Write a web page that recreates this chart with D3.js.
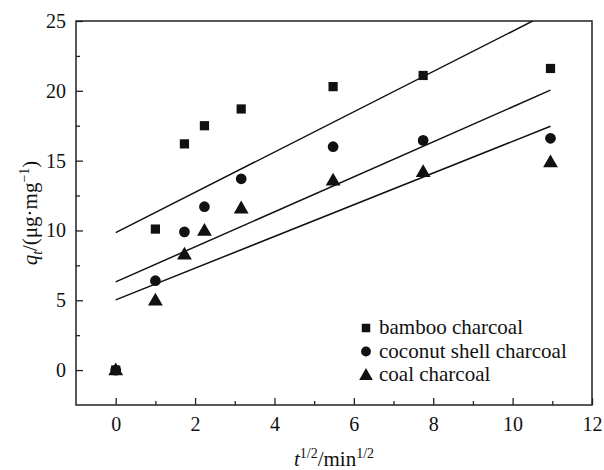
<!DOCTYPE html>
<html>
<head>
<meta charset="utf-8">
<script src="https://cdn.jsdelivr.net/npm/d3@7"></script>
</head>
<body style="margin:0;background:#fff">
<script>
// ---- data ----
const xValues = [0, 1, 1.732, 2.236, 3.162, 5.477, 7.746, 10.954];   // t^1/2
const bamboo   = [0, 10.1, 16.2, 17.5, 18.7, 20.3, 21.1, 21.6];
const coconut  = [0, 6.4, 9.9, 11.7, 13.7, 16.0, 16.45, 16.6];
const coal     = [0, 5.0, 8.3, 10.0, 11.6, 13.6, 14.2, 14.9];
const seriesNames = ["bamboo charcoal", "coconut shell charcoal", "coal charcoal"];
const fitIntercepts = [9.84, 6.32, 5.03];
const fitSlopes = [1.443, 1.253, 1.135];
const fitRange = [0, 10.954];
const xTicks = [0, 2, 4, 6, 8, 10, 12];
const yTicks = [0, 5, 10, 15, 20, 25];
const xMinorTicks = [1, 3, 5, 7, 9, 11];
const yMinorTicks = [2.5, 7.5, 12.5, 17.5, 22.5];

const FONT = "Liberation Serif";
const svg = d3.select("body").append("svg").attr("width", 604).attr("height", 470)
  .style("display", "block");
const L = 76, R = 592, T = 21, B = 405;
const x = d3.scaleLinear().domain([-1, 12]).range([L, R]);
const y = d3.scaleLinear().domain([-2.5, 25]).range([B, T]);

svg.append("defs").append("clipPath").attr("id", "plotclip")
  .append("rect").attr("x", L).attr("y", T).attr("width", R - L).attr("height", B - T);

function txt(sel, size) {
  return sel.style("font-family", FONT).style("font-size", size + "px").attr("fill", "#111");
}

// axes
const xAxis = d3.axisBottom(x).tickValues(xTicks).tickSize(-7).tickPadding(12).tickFormat(d3.format("d"));
const xMinor = d3.axisBottom(x).tickValues(xMinorTicks).tickSize(-4).tickFormat("");
const yAxis = d3.axisLeft(y).tickValues(yTicks).tickSize(-7).tickPadding(10).tickFormat(d3.format("d"));
const yMinor = d3.axisLeft(y).tickValues(yMinorTicks).tickSize(-4).tickFormat("");

function style(g) {
  g.attr("font-family", null).attr("font-size", null);
  g.select(".domain").remove();
  g.selectAll("line").attr("stroke", "#222").attr("stroke-width", 1.3);
  txt(g.selectAll("text"), 20);
}
svg.append("g").attr("transform", `translate(0,${B})`).call(xAxis).call(style);
svg.append("g").attr("transform", `translate(0,${B})`).call(xMinor).call(style);
svg.append("g").attr("transform", `translate(${L},0)`).call(yAxis).call(style);
svg.append("g").attr("transform", `translate(${L},0)`).call(yMinor).call(style);

// frame
svg.append("rect").attr("x", L).attr("y", T).attr("width", R - L).attr("height", B - T)
  .attr("fill", "none").attr("stroke", "#222").attr("stroke-width", 1.5);

// fit lines
const plot = svg.append("g").attr("clip-path", "url(#plotclip)");
fitIntercepts.forEach((b, i) => {
  const pts = fitRange.map(v => [v, b + fitSlopes[i] * v]);
  plot.append("path")
    .attr("d", d3.line().x(d => x(d[0])).y(d => y(d[1]))(pts))
    .attr("stroke", "#111").attr("stroke-width", 1.5).attr("fill", "none");
});

// markers
const symbols = [d3.symbolSquare, d3.symbolCircle, d3.symbolTriangle];
const sizes = [85, 90, 95];
const allSeries = [bamboo, coconut, coal];
allSeries.forEach((vals, i) => {
  svg.append("g").selectAll("path").data(vals).join("path")
    .attr("d", d3.symbol().type(symbols[i]).size(sizes[i]))
    .attr("transform", (d, j) => `translate(${x(xValues[j])},${y(d) + (i === 2 ? 1 : 0)})`)
    .attr("fill", "#111");
});

// legend
const legend = svg.append("g");
seriesNames.forEach((name, i) => {
  const ly = 328 + i * 23.5;
  legend.append("path")
    .attr("d", d3.symbol().type(symbols[i]).size(sizes[i] * 0.85))
    .attr("transform", `translate(366,${ly + (i === 2 ? 1 : 0)})`).attr("fill", "#111");
  txt(legend.append("text").attr("x", 379).attr("y", ly + 6), 21).text(name);
});

// axis titles
const xt = txt(svg.append("text").attr("x", 334).attr("y", 466).attr("text-anchor", "middle"), 21);
xt.append("tspan").style("font-style", "italic").text("t");
xt.append("tspan").attr("dy", -8).style("font-size", "14px").text("1/2");
xt.append("tspan").attr("dy", 8).text("/min");
xt.append("tspan").attr("dy", -8).style("font-size", "14px").text("1/2");

const yt = txt(svg.append("text").attr("transform", "translate(37,213) rotate(-90)")
  .attr("text-anchor", "middle"), 21);
yt.append("tspan").style("font-style", "italic").text("q");
yt.append("tspan").attr("dy", 5).style("font-size", "14px").style("font-style", "italic").text("t");
yt.append("tspan").attr("dy", -5).text("/(μg·mg");
yt.append("tspan").attr("dy", -8).style("font-size", "14px").text("−1");
yt.append("tspan").attr("dy", 8).text(")");
</script>
</body>
</html>
